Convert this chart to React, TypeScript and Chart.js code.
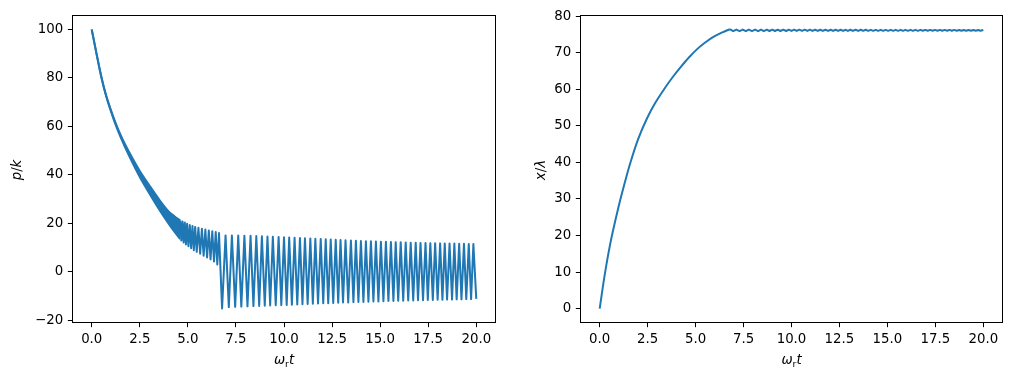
import React, { useEffect, useRef } from "react";
import { Chart, registerables } from "chart.js";

Chart.register(...registerables);

const BLUE = "#1f77b4";
const FONT = "'DejaVu Sans', sans-serif";

// tick labels
const tTickValues = [0, 2.5, 5, 7.5, 10, 12.5, 15, 17.5, 20];
const pTickValues = [-20, 0, 20, 40, 60, 80, 100];
const xTickValues = [0, 10, 20, 30, 40, 50, 60, 70, 80];

// left panel: early dense band (upper / lower envelope of the fast oscillation)
const tBand = [0, 0.25, 0.5, 0.75, 1.0, 1.25, 1.5, 2.0, 2.5, 3.0, 3.5, 4.0, 4.3, 4.6];
const pBandUpper = [100, 90, 80.5, 72.8, 66.7, 61.2, 56.5, 48.6, 41.6, 35.6, 29.9, 24.9, 22.9, 21.2];
const pBandLower = [100, 89.9, 80.3, 72.4, 66.2, 60.5, 55.6, 46.9, 39.1, 32.3, 25.8, 19.8, 16.5, 13.5];

// left panel: resolved oscillation extremes
const tOsc = [
  4.60, 4.66, 4.72, 4.78, 4.84, 4.90, 4.96, 5.03, 5.10, 5.17, 5.24, 5.31, 5.38, 5.46,
  5.55, 5.64, 5.73, 5.82, 5.91, 6.00, 6.09, 6.18, 6.27, 6.36, 6.45, 6.53, 6.62,
  6.78, 6.96, 7.13, 7.29, 7.46, 7.62, 7.78, 7.94, 8.10, 8.26,
  8.41, 8.56, 8.71, 8.85, 9.00, 9.14, 9.28, 9.42, 9.57, 9.72,
  9.86, 10.00, 10.14, 10.27, 10.41, 10.55, 10.69, 10.83, 10.96, 11.09,
  11.23, 11.37, 11.50, 11.63, 11.77, 11.91, 12.04, 12.17, 12.30, 12.43,
  12.56, 12.69, 12.82, 12.94, 13.07, 13.20, 13.34, 13.48, 13.61, 13.74,
  13.87, 14.00, 14.13, 14.26, 14.39, 14.52, 14.65, 14.78, 14.91, 15.04,
  15.17, 15.30, 15.43, 15.56, 15.69, 15.81, 15.94, 16.07, 16.20, 16.33,
  16.46, 16.59, 16.72, 16.85, 16.97, 17.10, 17.23, 17.36, 17.48, 17.61,
  17.74, 17.86, 17.99, 18.12, 18.24, 18.36, 18.48, 18.61, 18.74, 18.86,
  18.98, 19.11, 19.23, 19.36, 19.48, 19.61, 19.73, 19.85, 20.00,
];
const pOsc = [
  21.2, 12.9, 20.7, 12.1, 20.3, 11.3, 19.8, 10.5, 19.3, 9.7, 18.9, 8.9, 18.5, 8.2,
  18.1, 7.4, 17.7, 6.6, 17.4, 5.9, 17.0, 5.1, 16.7, 4.2, 16.4, 3.0, 16.0,
  -15.2, 15.0, -14.6, 14.9, -14.5, 14.9, -14.4, 14.8, -14.3, 14.8,
  -14.2, 14.7, -14.1, 14.6, -14.0, 14.5, -13.9, 14.4, -13.8, 14.3,
  -13.8, 14.2, -13.7, 14.1, -13.6, 14.0, -13.5, 13.9, -13.4, 13.8,
  -13.3, 13.7, -13.2, 13.6, -13.1, 13.5, -13.0, 13.4, -13.0, 13.3,
  -12.9, 13.2, -12.8, 13.1, -12.7, 13.0, -12.7, 12.9, -12.6, 12.8,
  -12.5, 12.7, -12.5, 12.6, -12.4, 12.6, -12.3, 12.5, -12.3, 12.4,
  -12.2, 12.4, -12.1, 12.3, -12.1, 12.2, -12.0, 12.2, -12.0, 12.1,
  -11.9, 12.0, -11.9, 12.0, -11.8, 11.9, -11.8, 11.9, -11.7, 11.8,
  -11.7, 11.8, -11.6, 11.7, -11.6, 11.7, -11.5, 11.6, -11.5, 11.6,
  -11.4, 11.5, -11.4, 11.5, -11.3, 11.4, -11.3, 11.4, -11.2,
];

// right panel: rise of x/λ
const tRise = [0, 0.245, 0.56, 0.99, 1.3, 1.6, 2.0, 2.47, 2.9, 3.34, 3.8, 4.21, 4.65, 5.08, 5.5, 5.95, 6.4, 6.78];
const xRise = [0, 8.7, 18.0, 28.0, 34.3, 39.9, 46.3, 52.1, 56.3, 59.9, 63.3, 66.0, 68.7, 71.0, 72.8, 74.4, 75.6, 76.45];

// right panel: small wiggle on the plateau (sampled at the tOsc times from 6.78 on)
const xPlateau = [
  76.45, 75.93, 76.36, 75.94, 76.35, 75.94, 76.35, 75.95, 76.34, 75.95,
  76.34, 75.95, 76.33, 75.96, 76.33, 75.96, 76.33, 75.96, 76.32, 75.96,
  76.32, 75.97, 76.32, 75.97, 76.31, 75.97, 76.31, 75.97, 76.31, 75.98,
  76.31, 75.98, 76.30, 75.98, 76.30, 75.98, 76.30, 75.98, 76.30, 75.99,
  76.30, 75.99, 76.29, 75.99, 76.29, 75.99, 76.29, 75.99, 76.29, 76.00,
  76.29, 76.00, 76.28, 76.00, 76.28, 76.00, 76.28, 76.00, 76.28, 76.00,
  76.28, 76.01, 76.28, 76.01, 76.27, 76.01, 76.27, 76.01, 76.27, 76.01,
  76.27, 76.01, 76.27, 76.02, 76.27, 76.02, 76.26, 76.02, 76.26, 76.02,
  76.26, 76.02, 76.26, 76.02, 76.26, 76.02, 76.26, 76.03, 76.25, 76.03,
  76.25, 76.03, 76.25, 76.03, 76.25, 76.03, 76.25, 76.03, 76.25,
];

type Part = { t: string; it?: boolean; sub?: boolean };

function drawRich(ctx: CanvasRenderingContext2D, parts: Part[], cx: number, base: number, rot: boolean) {
  const size = 13.33;
  const fontOf = (p: Part) => `${p.it ? "italic " : ""}${p.sub ? size * 0.7 : size}px ${FONT}`;
  const widths = parts.map((p) => {
    ctx.font = fontOf(p);
    return ctx.measureText(p.t).width;
  });
  const total = widths.reduce((a, b) => a + b, 0);
  ctx.save();
  ctx.fillStyle = "#000";
  ctx.textBaseline = "alphabetic";
  ctx.textAlign = "left";
  if (rot) {
    ctx.translate(base, cx);
    ctx.rotate(-Math.PI / 2);
  } else {
    ctx.translate(cx, base);
  }
  let x = -total / 2;
  parts.forEach((p, i) => {
    ctx.font = fontOf(p);
    ctx.fillText(p.t, x, p.sub ? 2.8 : 0);
    x += widths[i];
  });
  ctx.restore();
}

function makeDecor(xTitle: Part[], yTitle: Part[], yTitleBase: number) {
  return {
    id: "decor",
    afterDraw(chart: any) {
      const { ctx, chartArea: a } = chart;
      ctx.save();
      ctx.strokeStyle = "#000";
      ctx.lineWidth = 1;
      ctx.strokeRect(a.left, a.top, a.right - a.left, a.bottom - a.top);
      ctx.restore();
      drawRich(ctx, xTitle, (a.left + a.right) / 2, 364, false);
      drawRich(ctx, yTitle, (a.top + a.bottom) / 2 + 1, yTitleBase, true);
    },
  };
}

const tickFont = { family: FONT, size: 13.33 };
const gridOpts = { drawOnChartArea: false, drawTicks: true, tickLength: 4.67, color: "#000", lineWidth: 1 };

function xScale() {
  return {
    type: "linear" as const,
    min: -1,
    max: 21,
    afterBuildTicks: (s: any) => {
      s.ticks = tTickValues.map((v) => ({ value: v }));
    },
    afterFit: (s: any) => {
      s.height = 56.5;
    },
    grid: gridOpts,
    border: { display: false },
    ticks: {
      color: "#000",
      font: tickFont,
      padding: 4.67,
      maxRotation: 0,
      autoSkip: false,
      callback: (v: any) => Number(v).toFixed(1),
    },
  };
}

function yScale(min: number, max: number, values: number[], width: number) {
  return {
    type: "linear" as const,
    min,
    max,
    afterBuildTicks: (s: any) => {
      s.ticks = values.map((v) => ({ value: v }));
    },
    afterFit: (s: any) => {
      s.width = width;
    },
    grid: gridOpts,
    border: { display: false },
    ticks: {
      color: "#000",
      font: tickFont,
      padding: 4.67,
      autoSkip: false,
      callback: (v: any) => (Number(v) < 0 ? "\u2212" + Math.abs(Number(v)) : String(v)),
    },
  };
}

const lineBase = {
  borderColor: BLUE,
  borderWidth: 2,
  pointRadius: 0,
  borderJoinStyle: "round" as const,
  borderCapStyle: "butt" as const,
};

const baseOptions = (yMin: number, yMax: number, yTicks: number[], yWidth: number, padRight: number) =>
  ({
    animation: false,
    responsive: false,
    maintainAspectRatio: false,
    layout: { padding: { top: 15.5, right: padRight, left: 0, bottom: 0 } },
    plugins: { legend: { display: false }, tooltip: { enabled: false } },
    scales: {
      x: xScale(),
      y: yScale(yMin, yMax, yTicks, yWidth),
    },
  } as any);

export default function App() {
  const leftRef = useRef<HTMLCanvasElement>(null);
  const rightRef = useRef<HTMLCanvasElement>(null);

  useEffect(() => {
    const plateauStart = tOsc.indexOf(6.78);
    const tPlateau = tOsc.slice(plateauStart);

    const leftChart = new Chart(leftRef.current!, {
      type: "line",
      data: {
        datasets: [
          {
            ...lineBase,
            data: tBand.map((t, i) => ({ x: t, y: pBandUpper[i] })),
            backgroundColor: BLUE,
            fill: "+1",
            cubicInterpolationMode: "monotone",
          },
          {
            ...lineBase,
            data: tBand.map((t, i) => ({ x: t, y: pBandLower[i] })),
            fill: false,
            cubicInterpolationMode: "monotone",
          },
          {
            ...lineBase,
            data: tOsc.map((t, i) => ({ x: t, y: pOsc[i] })),
            fill: false,
            tension: 0,
          },
        ],
      } as any,
      options: baseOptions(-20.96, 105.76, pTickValues, 72.5, 10.5),
      plugins: [
        makeDecor(
          [{ t: "\u03c9", it: true }, { t: "r", sub: true }, { t: "t", it: true }],
          [{ t: "p", it: true }, { t: "/" }, { t: "k", it: true }],
          21
        ) as any,
      ],
    });

    const rightChart = new Chart(rightRef.current!, {
      type: "line",
      data: {
        datasets: [
          {
            ...lineBase,
            data: tRise.map((t, i) => ({ x: t, y: xRise[i] })),
            fill: false,
            cubicInterpolationMode: "monotone",
          },
          {
            ...lineBase,
            data: tPlateau.map((t, i) => ({ x: t, y: xPlateau[i] })),
            fill: false,
            tension: 0,
          },
        ],
      } as any,
      options: baseOptions(-3.8, 80.2, xTickValues, 74.5, 9.5),
      plugins: [
        makeDecor(
          [{ t: "\u03c9", it: true }, { t: "r", sub: true }, { t: "t", it: true }],
          [{ t: "x", it: true }, { t: "/" }, { t: "\u03bb", it: true }],
          38.5
        ) as any,
      ],
    });

    return () => {
      leftChart.destroy();
      rightChart.destroy();
    };
  }, []);

  return (
    <div style={{ position: "absolute", left: 0, top: 0, width: 1012, height: 379, background: "#fff" }}>
      <canvas ref={leftRef} width={506} height={379} style={{ position: "absolute", left: 0, top: 0, width: 506, height: 379 }} />
      <canvas ref={rightRef} width={506} height={379} style={{ position: "absolute", left: 506, top: 0, width: 506, height: 379 }} />
    </div>
  );
}
